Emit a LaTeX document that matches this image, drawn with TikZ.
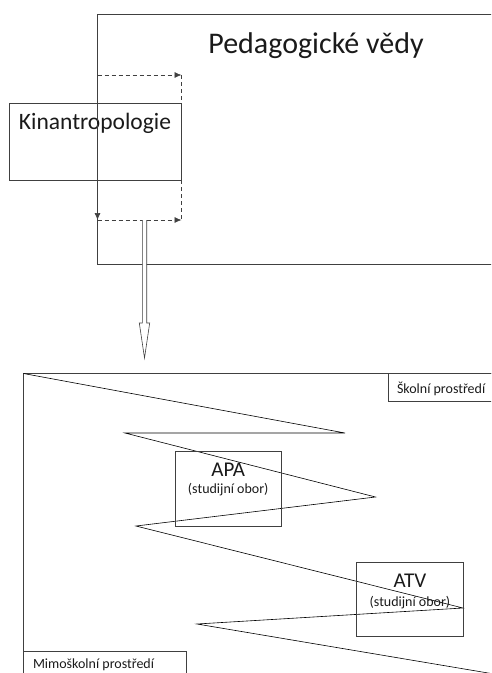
\documentclass[tikz,border=0pt]{standalone}
\usepackage{fontspec}
\setmainfont{Carlito}
\usetikzlibrary{arrows.meta,positioning}
\definecolor{line-grey}{HTML}{404040}
\definecolor{text-dark}{HTML}{1A1A1A}

\begin{document}
\begin{tikzpicture}[x=1pt, y=-1pt, line width=0.8pt,
    every node/.style={text=text-dark, inner sep=0pt, outer sep=0pt},
    areabox/.style={draw=line-grey, anchor=north west},
    dashline/.style={draw=line-grey, line width=0.7pt, dash pattern=on 4pt off 3pt},
    dasharrow/.style={dashline, -{Latex[length=7pt,width=6pt]}},
    zigline/.style={draw=black, line width=0.6pt},
    hollowarrow/.style={draw=line-grey, line width=0.6pt, fill=white}]
    \useasboundingbox (0,0) rectangle (491,673);
    \clip (0,0) rectangle (491,673);

    % upper part
    \node[areabox, minimum width=420pt, minimum height=250pt] (ped) at (97.5,14) {};
    \node[anchor=base, font=\fontsize{30}{36}\selectfont] (pedtext) at (316,53) {Pedagogické vědy};
    \node[areabox, minimum width=172pt, minimum height=77pt] (kin) at (9.5,103) {};
    \node[anchor=base, font=\fontsize{23.5}{28}\selectfont] (kintext) at (95,129) {Kinantropologie};

    \coordinate (dtl) at (97.5,75);
    \coordinate (dtr) at (181.5,75);
    \coordinate (dbl) at (97.5,220);
    \coordinate (dbr) at (181.5,220);
    \coordinate (dbmid) at (144.5,220);
    \draw[dasharrow] (dtl) -- (dtr);
    \draw[dasharrow] (dtl) -- (dbl);
    \draw[dasharrow] (dbl) -- (dbr);
    \draw[dashline] (dtr) -- (dbr);

    % arrow down
    \draw[hollowarrow] ([xshift=-2.2pt]dbmid) -- ++(0,103) -- ++(-3,0) -- ++(5.2,35)
        -- ++(5.2,-35) -- ++(-3,0) -- ++(0,-103);

    % lower part
    \node[areabox, minimum width=480pt, minimum height=320pt] (env) at (23.5,373.5) {};
    \draw[zigline] (env.north west) -- (345,433) -- (125,433) -- (375.5,497) -- (136,526)
        -- (463,608) -- (197,624) -- (500,675);

    \node[areabox, minimum width=120pt, minimum height=27.5pt] (skol) at (388.5,373.5) {};
    \node[anchor=base west, font=\fontsize{14}{17}\selectfont] (skoltext) at (397,393) {Školní prostředí};
    \node[areabox, minimum width=162.5pt, minimum height=40pt] (mimo) at (23.5,651) {};
    \node[anchor=base west, font=\fontsize{14}{17}\selectfont] (mimotext) at (33,668) {Mimoškolní prostředí};

    \node[areabox, minimum width=106.5pt, minimum height=74.5pt] (apa) at (175,451.7) {};
    \node[anchor=base, font=\fontsize{21}{25}\selectfont] (apatext) at ([yshift=-25pt]apa.north) {APA};
    \node[anchor=base, font=\fontsize{14}{17}\selectfont] (apasub) at ([yshift=-42pt]apa.north) {(studijní obor)};
    \node[areabox, minimum width=106.5pt, minimum height=74pt] (atv) at (356.7,562.7) {};
    \node[anchor=base, font=\fontsize{21}{25}\selectfont] (atvtext) at ([yshift=-25pt]atv.north) {ATV};
    \node[anchor=base, font=\fontsize{14}{17}\selectfont] (atvsub) at ([yshift=-44pt]atv.north) {(studijní obor)};
\end{tikzpicture}
\end{document}
